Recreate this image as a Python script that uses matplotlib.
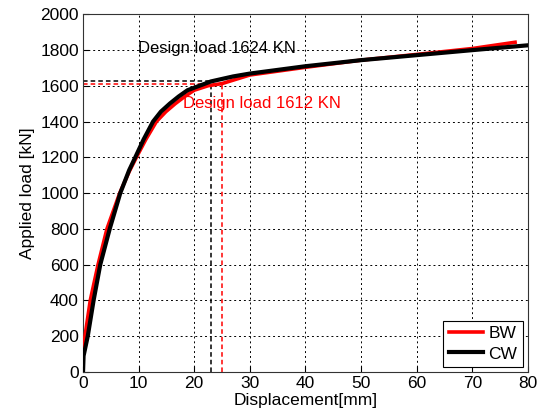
import matplotlib.pyplot as plt

plt.rcParams['font.family'] = ['Liberation Sans', 'DejaVu Sans']

# curvas carga-desplazamiento
bw_disp = [0, 0, 0.35, 1.3, 2.7, 4.3, 6.6, 8.3, 9.6, 11.3, 13.2, 14.9, 16.6, 18.3, 20.0, 22.5, 25.0, 30, 40, 50, 60, 70, 77.7]
bw_load = [0, 150, 200, 400, 600, 800, 1000, 1120, 1200, 1300, 1400, 1455, 1500, 1540, 1575, 1600, 1612, 1660, 1703, 1743, 1775, 1808, 1843]

cw_disp = [0, 0.1, 0.85, 1.9, 3.1, 4.8, 6.7, 8.3, 9.4, 10.9, 12.6, 14.0, 15.6, 17.2, 18.8, 21.2, 23.0, 27, 30, 40, 50, 60, 70, 80]
cw_load = [0, 90, 200, 400, 600, 800, 1000, 1128, 1200, 1300, 1400, 1455, 1500, 1540, 1575, 1603, 1624, 1652, 1668, 1709, 1743, 1771, 1799, 1826]

# cargas de diseno
design_cw = (23.0, 1624)
design_bw = (25.0, 1612)

xticks = [0, 10, 20, 30, 40, 50, 60, 70, 80]
yticks = [0, 200, 400, 600, 800, 1000, 1200, 1400, 1600, 1800, 2000]

fig = plt.figure(figsize=(5.37, 4.17), dpi=100)
ax = fig.add_axes([0.1546, 0.108, 0.8284, 0.858])

ax.plot(bw_disp, bw_load, color='red', lw=2.6, label='BW', zorder=3, solid_joinstyle='round')
ax.plot(cw_disp, cw_load, color='black', lw=3.0, label='CW', zorder=4, solid_joinstyle='round')

# lineas de carga de diseno
dash = (0, (3, 2))
ax.plot([0, design_cw[0]], [design_cw[1], design_cw[1]], color='black', lw=1.1, ls=dash, zorder=2)
ax.plot([design_cw[0], design_cw[0]], [0, design_cw[1]], color='black', lw=1.1, ls=dash, zorder=2)
ax.plot([0, design_bw[0]], [design_bw[1], design_bw[1]], color='red', lw=1.1, ls=dash, zorder=2)
ax.plot([design_bw[0], design_bw[0]], [0, design_bw[1]], color='red', lw=1.1, ls=dash, zorder=2)

ax.text(9.9, 1810, 'Design load 1624 KN', color='black', fontsize=12, va='center')
ax.text(18.0, 1503, 'Design load 1612 KN', color='red', fontsize=12, va='center')

ax.set_xlim(0, 80)
ax.set_ylim(0, 2000)
ax.set_xticks(xticks)
ax.set_yticks(yticks)
ax.tick_params(direction='in', length=4, labelsize=12.5, pad=3)
ax.grid(True, color='black', lw=0.7, ls=(0, (2, 3)))
for s in ax.spines.values():
    s.set_linewidth(0.8)
    s.set_color('#333333')

ax.set_xlabel('Displacement[mm]', fontsize=12.5, labelpad=1)
ax.set_ylabel('Applied load [kN]', fontsize=12.5, labelpad=4)

leg = ax.legend(loc='lower right', fontsize=12.5, fancybox=False, framealpha=1,
                edgecolor='black', handlelength=2.0, handletextpad=0.3,
                borderpad=0.3, labelspacing=0.3, borderaxespad=0.3)
leg.get_frame().set_linewidth(0.8)

fig.savefig('out.png', dpi=100)
